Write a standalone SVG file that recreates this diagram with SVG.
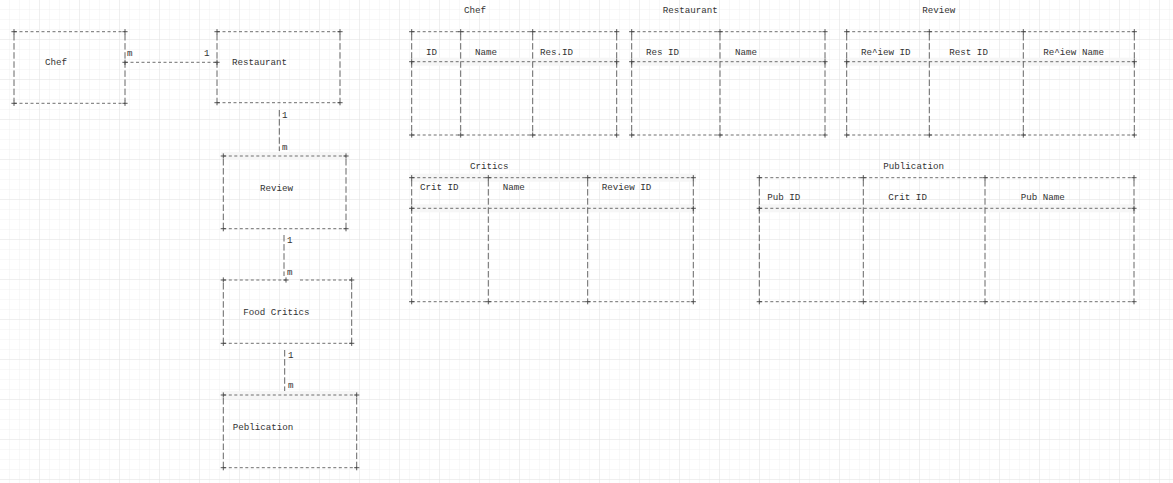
<svg xmlns="http://www.w3.org/2000/svg" xmlns:xlink="http://www.w3.org/1999/xlink" width="1173" height="483" viewBox="0 0 1173 483">
<style>
.h{fill:none;stroke:#555;stroke-width:0.85;stroke-dasharray:3 2.5}
.v{fill:none;stroke:#555;stroke-width:0.9;stroke-dasharray:6.5 2.6}
.t{font-family:"Liberation Mono","DejaVu Sans Mono",monospace;font-size:9.2px;fill:#333}
.band{fill:#f6f6f6}
</style>
<defs>
<pattern id="minor" width="10" height="10" patternUnits="userSpaceOnUse"><path d="M10 0V10M0 10H10" fill="none" stroke="#f0f0f0" stroke-width="1"/></pattern>
<pattern id="major" width="40" height="40" patternUnits="userSpaceOnUse"><path d="M40 0V40M0 40H40" fill="none" stroke="#e6e6e6" stroke-width="1"/></pattern>
<path id="p" d="M-2.6 0H2.6M0 -2.6V2.6" stroke="#444" stroke-width="0.9" fill="none"/>
</defs>
<rect width="1173" height="483" fill="#ffffff"/>
<rect width="1173" height="483" fill="url(#minor)"/>
<rect width="1173" height="483" fill="url(#major)"/>

<g id="connectors">
<path class="h" d="M125 62.3H217"/>
<text class="t" x="127" y="55.5">m</text>
<text class="t" x="204" y="55.5">1</text>
<path class="v" d="M279.3 110V151"/>
<text class="t" x="282" y="118">1</text>
<text class="t" x="282" y="150">m</text>
<path class="v" d="M284 235V276"/>
<text class="t" x="287" y="243">1</text>
<text class="t" x="287" y="275">m</text>
<path class="v" d="M284.7 350V391"/>
<text class="t" x="288" y="358">1</text>
<text class="t" x="288" y="388">m</text>
</g>

<g id="chef">
<path class="h" d="M14 31.7H125M14 103.3H125"/>
<path class="v" d="M14 34V101M125 34V101"/>
<use href="#p" x="14" y="31.7"/><use href="#p" x="125" y="31.7"/><use href="#p" x="14" y="103.3"/><use href="#p" x="125" y="103.3"/><use href="#p" x="125" y="62.3"/>
<text class="t" x="45" y="65">Chef</text>
</g>

<g id="restaurant">
<path class="h" d="M217 31.7H340M217 102.7H340"/>
<path class="v" d="M217 34V100M340 34V100"/>
<use href="#p" x="217" y="31.7"/><use href="#p" x="340" y="31.7"/><use href="#p" x="217" y="102.7"/><use href="#p" x="340" y="102.7"/><use href="#p" x="217" y="62.3"/>
<text class="t" x="232" y="65">Restaurant</text>
</g>

<g id="review">
<rect class="band" x="221" y="152" width="128" height="8"/>
<path class="h" d="M223.3 156H346M223.3 228.7H346"/>
<path class="v" d="M223.3 159V226M346 159V226"/>
<use href="#p" x="223.3" y="156"/><use href="#p" x="346" y="156"/><use href="#p" x="223.3" y="228.7"/><use href="#p" x="346" y="228.7"/>
<text class="t" x="260" y="190.5">Review</text>
</g>

<g id="food-critics">
<path class="h" d="M223.3 280H286M300 280H351.7M223.3 343.3H351.7"/>
<path class="v" d="M223.3 283V341M351.7 283V341"/>
<use href="#p" x="223.3" y="280"/><use href="#p" x="286" y="280"/><use href="#p" x="351.7" y="280"/><use href="#p" x="223.3" y="343.3"/><use href="#p" x="351.7" y="343.3"/>
<text class="t" x="243.3" y="315.3">Food Critics</text>
</g>

<g id="publication">
<rect class="band" x="221" y="391" width="138" height="8"/>
<path class="h" d="M223.3 395H356.7M223.3 467.7H356.7"/>
<path class="v" d="M223.3 398V465M356.7 398V465"/>
<use href="#p" x="223.3" y="395"/><use href="#p" x="356.7" y="395"/><use href="#p" x="223.3" y="467.7"/><use href="#p" x="356.7" y="467.7"/>
<text class="t" x="232.7" y="430.3">Peblication</text>
</g>

<g id="tbl-chef">
<text class="t" x="464" y="13">Chef</text>
<rect class="band" x="410" y="57.7" width="209" height="8"/>
<path class="h" d="M411.7 31.7H616.7M411.7 61.7H616.7M411.7 135H616.7"/>
<path class="v" d="M411.7 34V133M460.7 34V133M532.7 34V133M616.7 34V133"/>
<use href="#p" x="411.7" y="31.7"/><use href="#p" x="460.7" y="31.7"/><use href="#p" x="532.7" y="31.7"/><use href="#p" x="616.7" y="31.7"/>
<use href="#p" x="411.7" y="61.7"/><use href="#p" x="616.7" y="61.7"/>
<use href="#p" x="411.7" y="135"/><use href="#p" x="460.7" y="135"/><use href="#p" x="532.7" y="135"/><use href="#p" x="616.7" y="135"/>
<text class="t" x="426" y="55.3">ID</text>
<text class="t" x="475" y="55.3">Name</text>
<text class="t" x="540" y="55.3">Res.ID</text>
</g>

<g id="tbl-restaurant">
<text class="t" x="662.7" y="13">Restaurant</text>
<rect class="band" x="630" y="57.7" width="197" height="8"/>
<path class="h" d="M631.7 31.7H825M631.7 61.7H825M631.7 135H825"/>
<path class="v" d="M631.7 34V133M720 34V133M825 34V133"/>
<use href="#p" x="631.7" y="31.7"/><use href="#p" x="720" y="31.7"/><use href="#p" x="825" y="31.7"/>
<use href="#p" x="631.7" y="61.7"/><use href="#p" x="825" y="61.7"/>
<use href="#p" x="631.7" y="135"/><use href="#p" x="720" y="135"/><use href="#p" x="825" y="135"/>
<text class="t" x="646" y="55.3">Res ID</text>
<text class="t" x="735" y="55.3">Name</text>
</g>

<g id="tbl-review">
<text class="t" x="922.3" y="13">Review</text>
<rect class="band" x="845" y="57.7" width="292" height="8"/>
<path class="h" d="M846.7 31.7H1134.3M846.7 61.7H1134.3M846.7 135H1134.3"/>
<path class="v" d="M846.7 34V133M929.3 34V133M1023.3 34V133M1134.3 34V133"/>
<use href="#p" x="846.7" y="31.7"/><use href="#p" x="929.3" y="31.7"/><use href="#p" x="1023.3" y="31.7"/><use href="#p" x="1134.3" y="31.7"/>
<use href="#p" x="846.7" y="61.7"/><use href="#p" x="1134.3" y="61.7"/>
<use href="#p" x="846.7" y="135"/><use href="#p" x="929.3" y="135"/><use href="#p" x="1023.3" y="135"/><use href="#p" x="1134.3" y="135"/>
<text class="t" x="861" y="55.3">Re^iew ID</text>
<text class="t" x="949.3" y="55.3">Rest ID</text>
<text class="t" x="1043.3" y="55.3">Re^iew Name</text>
</g>

<g id="tbl-critics">
<text class="t" x="470" y="169">Critics</text>
<rect class="band" x="410" y="173.7" width="286" height="8"/>
<rect class="band" x="410" y="204.3" width="286" height="8"/>
<path class="h" d="M411.7 177.7H693.3M411.7 208.3H693.3M411.7 301.7H693.3"/>
<path class="v" d="M411.7 180V299M488.3 180V299M587.7 180V299M693.3 180V299"/>
<use href="#p" x="411.7" y="177.7"/><use href="#p" x="488.3" y="177.7"/><use href="#p" x="587.7" y="177.7"/><use href="#p" x="693.3" y="177.7"/>
<use href="#p" x="411.7" y="208.3"/><use href="#p" x="693.3" y="208.3"/>
<use href="#p" x="411.7" y="301.7"/><use href="#p" x="488.3" y="301.7"/><use href="#p" x="587.7" y="301.7"/><use href="#p" x="693.3" y="301.7"/>
<text class="t" x="420" y="190.3">Crit ID</text>
<text class="t" x="502.7" y="190.3">Name</text>
<text class="t" x="601.7" y="190.3">Review ID</text>
</g>

<g id="tbl-publication">
<text class="t" x="883.3" y="169">Publication</text>
<rect class="band" x="758" y="204.3" width="378" height="8"/>
<path class="h" d="M759.3 177.7H1134M759.3 208.3H1134M759.3 301.7H1134"/>
<path class="v" d="M759.3 180V299M863.3 180V299M985 180V299M1134 180V299"/>
<use href="#p" x="759.3" y="177.7"/><use href="#p" x="863.3" y="177.7"/><use href="#p" x="985" y="177.7"/><use href="#p" x="1134" y="177.7"/>
<use href="#p" x="759.3" y="208.3"/><use href="#p" x="1134" y="208.3"/>
<use href="#p" x="759.3" y="301.7"/><use href="#p" x="863.3" y="301.7"/><use href="#p" x="985" y="301.7"/><use href="#p" x="1134" y="301.7"/>
<text class="t" x="767.3" y="200.3">Pub ID</text>
<text class="t" x="888.3" y="200.3">Crit ID</text>
<text class="t" x="1020.7" y="200.3">Pub Name</text>
</g>
</svg>
